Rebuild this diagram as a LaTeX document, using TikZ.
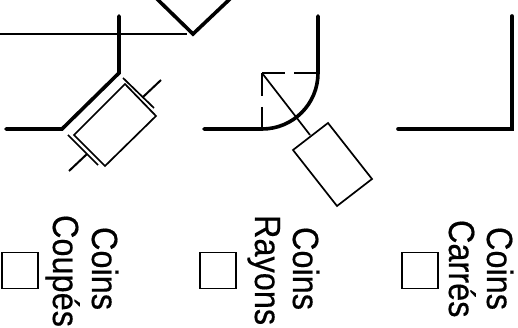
\documentclass[tikz,border=0pt]{standalone}
\usepackage{fontspec}
\setmainfont[FakeBold=0.4]{Liberation Sans}
\tikzset{
 wall/.style={line width=3.6pt,line cap=round,line join=miter},
 thin line/.style={line width=2pt},
 box/.style={line width=1.7pt,line join=miter},
 lab/.style={rotate=-90,anchor=base west,inner sep=0pt,outer sep=0pt,font=\fontsize{36.5}{36}\selectfont},
 tick/.style={draw,rectangle,line width=1.7pt,minimum size=36pt,inner sep=0pt}
}
\newcommand{\squeezed}[1]{\scalebox{0.89}[1]{#1}}
\begin{document}
\begin{tikzpicture}[x=1pt,y=-1pt]
\useasboundingbox (0,0) rectangle (518,328);
\clip (0,0) rectangle (518,328);
% corner 1
\draw[wall] (6,129) -- (62,129) -- (119,73) -- (119,16);
\draw[thin line] (0,34.5) -- (187,34.5);
\draw[wall] (155,-3) -- (193,34) -- (232,-3);
\draw[box] (125,84) -- (156,116) -- (105,166) -- (74,135) -- cycle;
\draw[box] (123,78) -- (154,108);
\draw[box] (68,135) -- (98,165);
\draw[thin line] (143,97) -- (161,80);
\draw[thin line] (69,171) -- (87,154);
% corner 2
\draw[wall] (204,129) -- (262,129) .. controls (293,129) and (318,104) .. (318,73) -- (318,16);
\draw[thin line] (262,73) -- (285,73) (294,73) -- (318,73);
\draw[thin line] (262,73) -- (262,96) (262,107) -- (262,129);
\draw[box] (262,73) -- (310,135);
\draw[box] (328,123) -- (372,179) -- (337,206) -- (293,150) -- cycle;
% corner 3
\draw[wall,line join=miter] (398,129) -- (512,129) -- (512,16);
% labels
\node[tick] (c1) at (20,270.5) {};
\node[tick] (c2) at (218,270.5) {};
\node[tick] (c3) at (420,270.5) {};
\node[lab] (l1) at (92,227) {\squeezed{Coins}};
\node[lab] (l2) at (53,215) {\squeezed{Coupés}};
\node[lab] (l3) at (293,227) {\squeezed{Coins}};
\node[lab] (l4) at (255,215) {\squeezed{Rayons}};
\node[lab] (l5) at (487,227) {\squeezed{Coins}};
\node[lab] (l6) at (449,220) {\squeezed{Carrés}};
\end{tikzpicture}
\end{document}
